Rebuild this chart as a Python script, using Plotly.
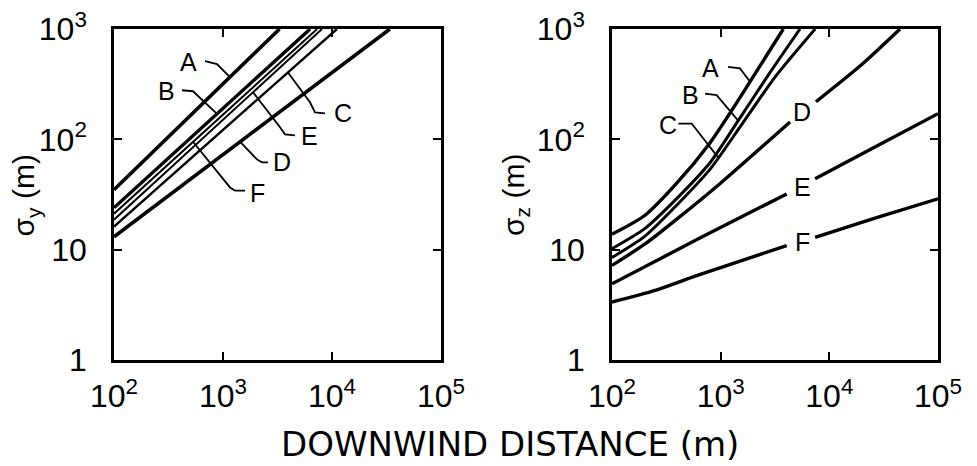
import numpy as np
import plotly.graph_objects as go

# ---- horizontal spread sigma_y (m) against downwind distance (m) ----
sy_a_x = [100, 1000, 3300]
sy_a = [35, 318, 1000]
sy_b_x = [100, 1000, 6300]
sy_b = [24, 191, 1000]
sy_c_x = [100, 1000, 11100]
sy_c = [16.2, 121, 1000]
sy_d_x = [100, 1000, 10000, 34000]
sy_d = [13.1, 73, 400, 1000]
sy_e_x = [100, 1000, 8100]
sy_e = [18.7, 151, 1000]
sy_f_x = [100, 1000, 7300]
sy_f = [21.2, 168, 1000]

# ---- vertical spread sigma_z (m); None leaves room for the class letter ----
sz_a_x = [100, 200, 400, 800, 1260, 2000, 3770]
sz_a = [13.8, 20.4, 40.7, 93.3, 182, 372, 1000]
sz_b_x = [100, 200, 400, 800, 1450, 2820, 5370]
sz_b = [10.2, 15.5, 29.5, 61.7, 148, 398, 1000]
sz_c_x = [100, 200, 400, 800, 1600, 3200, 7400]
sz_c = [8.5, 13.2, 25.7, 53.7, 141, 372, 1000]
sz_d_x = [100, 200, 400, 990, 4350, None, 7530, 20000, 44700]
sz_d = [7.2, 11.2, 19.1, 39.8, 143.6, None, 219, 479, 1000]
sz_e_x = [100, 630, 4050, None, 7400, 25000, 100000]
sz_e = [4.9, 12.6, 32, None, 43.9, 83, 171]
sz_f_x = [100, 250, 630, 4050, None, 7400, 25000, 100000]
sz_f = [3.35, 4.27, 5.9, 10.9, None, 12.9, 19, 28.9]

x_tick_vals = [100, 1000, 10000, 100000]
x_tick_text = ["10<sup>2</sup>", "10<sup>3</sup>", "10<sup>4</sup>", "10<sup>5</sup>"]
y_tick_vals = [1, 10, 100, 1000]
y_tick_text = ["1", "10", "10<sup>2</sup>", "10<sup>3</sup>"]

FONT = "Liberation Sans"
INK = "black"

fig = go.Figure()

left_series = [
    ("A", sy_a_x, sy_a, 3.6),
    ("B", sy_b_x, sy_b, 3.4),
    ("C", sy_c_x, sy_c, 2.4),
    ("D", sy_d_x, sy_d, 3.6),
    ("E", sy_e_x, sy_e, 2.0),
    ("F", sy_f_x, sy_f, 2.0),
]
right_series = [
    ("A", sz_a_x, sz_a, 3.4),
    ("B", sz_b_x, sz_b, 3.0),
    ("C", sz_c_x, sz_c, 3.0),
    ("D", sz_d_x, sz_d, 3.4),
    ("E", sz_e_x, sz_e, 3.4),
    ("F", sz_f_x, sz_f, 3.4),
]

for name, xs, ys, w in left_series:
    fig.add_trace(go.Scatter(x=xs, y=ys, mode="lines", name=name,
                             line=dict(color=INK, width=w),
                             xaxis="x", yaxis="y", showlegend=False))
for name, xs, ys, w in right_series:
    fig.add_trace(go.Scatter(x=xs, y=ys, mode="lines", name=name,
                             line=dict(color=INK, width=w, shape="spline", smoothing=0.7),
                             connectgaps=False,
                             xaxis="x2", yaxis="y2", showlegend=False))


def curve_log_y(xs, ys, lx):
    """log10 of the curve value at log10 distance lx."""
    pts = [(np.log10(a), np.log10(b)) for a, b in zip(xs, ys) if a is not None]
    return float(np.interp(lx, [p[0] for p in pts], [p[1] for p in pts]))


# class letters: (panel, letter, label position, leader bends, leader end on curve) in log10 units
left_lookup = {n: (xs, ys) for n, xs, ys, _ in left_series}
right_lookup = {n: (xs, ys) for n, xs, ys, _ in right_series}

letters = [
    ("L", "A", (2.679, 2.70), [(2.835, 2.709), (2.945, 2.682)], 3.064),
    ("L", "B", (2.486, 2.436), [(2.624, 2.445), (2.725, 2.436)], 2.945),
    ("L", "C", (4.101, 2.236), [(3.936, 2.236), (3.844, 2.245), (3.798, 2.336)], 3.596),
    ("L", "E", (3.798, 2.027), [(3.661, 2.036), (3.569, 2.045), (3.523, 2.109)], 3.275),
    ("L", "D", (3.541, 1.791), [(3.413, 1.791), (3.358, 1.791), (3.312, 1.818)], 3.156),
    ("L", "F", (3.312, 1.518), [(3.202, 1.536), (3.110, 1.536), (3.064, 1.564)], 2.725),
    ("R", "A", (2.902, 2.645), [(3.067, 2.657), (3.178, 2.643)], 3.27),
    ("R", "B", (2.718, 2.40), [(2.856, 2.415), (2.963, 2.40)], 3.161),
    ("R", "C", (2.515, 2.127), [(2.61, 2.143), (2.733, 2.143)], 2.978),
    ("R", "D", (3.752, 2.248), [], None),
    ("R", "E", (3.752, 1.566), [], None),
    ("R", "F", (3.752, 1.066), [], None),
]

annotations = []
for panel, letter, (lx, ly), bends, target in letters:
    xr, yr = ("x", "y") if panel == "L" else ("x2", "y2")
    annotations.append(dict(x=lx, y=ly, xref=xr, yref=yr, text=letter, showarrow=False,
                            xanchor="center", yanchor="middle",
                            font=dict(family=FONT, size=25, color=INK)))
    if target is not None:
        lookup = left_lookup if panel == "L" else right_lookup
        xs, ys = lookup[letter]
        path = bends + [(target, curve_log_y(xs, ys, target))]
        fig.add_trace(go.Scatter(x=[10 ** p[0] for p in path], y=[10 ** p[1] for p in path],
                                 mode="lines", line=dict(color=INK, width=1.8),
                                 xaxis=xr, yaxis=yr, showlegend=False, hoverinfo="skip"))

# axis titles
annotations += [
    dict(x=0.026, y=0.5815, xref="paper", yref="paper", text="σ<sub>y</sub> (m)",
         xanchor="center", yanchor="middle",
         textangle=-90, showarrow=False, font=dict(family=FONT, size=30, color=INK)),
    dict(x=0.527, y=0.5815, xref="paper", yref="paper", text="σ<sub>z</sub> (m)",
         xanchor="center", yanchor="middle",
         textangle=-90, showarrow=False, font=dict(family=FONT, size=30, color=INK)),
    dict(x=0.522, y=0.048, xref="paper", yref="paper", text="DOWNWIND DISTANCE (m)",
         xanchor="center", yanchor="middle",
         showarrow=False, font=dict(family="DejaVu Sans", size=34, color=INK)),
]

axis_style = dict(type="log", showgrid=False, zeroline=False, showline=True,
                  linecolor=INK, linewidth=2.5, mirror="ticks", ticks="inside",
                  ticklen=8, tickwidth=2, tickcolor=INK, automargin=False,
                  tickfont=dict(family=FONT, size=32, color=INK))

y_dom = [1 - 360 / 466, 1 - 29 / 466]

fig.update_layout(
    width=977, height=466,
    margin=dict(l=0, r=0, t=0, b=0, autoexpand=False),
    paper_bgcolor="white", plot_bgcolor="white",
    xaxis=dict(axis_style, domain=[114 / 977, 441 / 977], range=[2, 5],
               tickvals=x_tick_vals, ticktext=x_tick_text, anchor="y",
               ticklabelstandoff=6),
    yaxis=dict(axis_style, domain=y_dom, range=[0, 3],
               tickvals=y_tick_vals, ticktext=y_tick_text, anchor="x",
               ticklabelstandoff=18),
    xaxis2=dict(axis_style, domain=[612 / 977, 938 / 977], range=[2, 5],
                tickvals=x_tick_vals, ticktext=x_tick_text, anchor="y2",
                ticklabelstandoff=6),
    yaxis2=dict(axis_style, domain=y_dom, range=[0, 3],
                tickvals=y_tick_vals, ticktext=y_tick_text, anchor="x2",
                ticklabelstandoff=18),
    annotations=annotations,
    showlegend=False,
)

fig.write_html("out.html")
